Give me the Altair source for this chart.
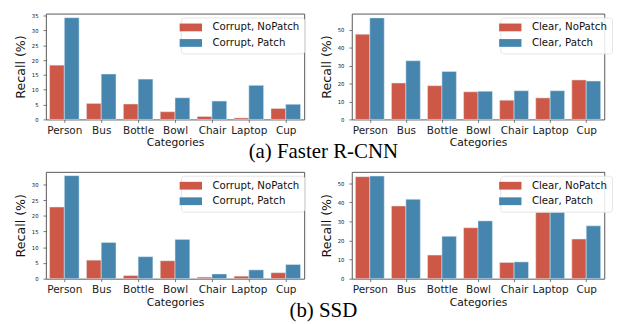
import json
import altair as alt
import pandas as pd

categories = ["Person", "Bus", "Bottle", "Bowl", "Chair", "Laptop", "Cup"]

frcnn_corrupt_nopatch = [18.3, 5.4, 5.2, 2.6, 1.0, 0.5, 3.7]
frcnn_corrupt_patch = [34.3, 15.3, 13.6, 7.3, 6.2, 11.5, 5.1]
frcnn_clear_nopatch = [47.5, 20.3, 18.8, 15.4, 10.7, 12.0, 22.0]
frcnn_clear_patch = [56.6, 32.7, 26.7, 15.7, 16.0, 16.0, 21.4]
ssd_corrupt_nopatch = [22.8, 5.9, 1.0, 5.7, 0.5, 0.8, 1.9]
ssd_corrupt_patch = [32.8, 11.5, 7.0, 12.5, 1.5, 2.8, 4.5]
ssd_clear_nopatch = [53.5, 38.1, 12.4, 26.7, 8.5, 35.0, 20.8]
ssd_clear_patch = [53.8, 41.6, 22.2, 30.3, 8.8, 35.0, 27.7]

corrupt_labels = ["Corrupt, NoPatch", "Corrupt, Patch"]
clear_labels = ["Clear, NoPatch", "Clear, Patch"]

RED = "#cd5847"
BLUE = "#4585ae"
FONT = "DejaVu Sans"
LABEL_EXPR = json.dumps(categories) + "[datum.value]"


def panel(nopatch, patch, labels, ymax, ticks, width, height, legend_x):
    n = len(categories)
    df = pd.DataFrame({
        "Category": categories * 2,
        "Series": [labels[0]] * n + [labels[1]] * n,
        "Recall": nopatch + patch,
        "idx": list(range(n)) * 2,
        "hue": [0] * n + [1] * n,
    })
    return alt.Chart(df).transform_calculate(
        x0="datum.idx - 0.4 + 0.4 * datum.hue",
        x1="datum.idx + 0.4 * datum.hue",
        base="0",
    ).mark_rect(stroke="#e3edf3", strokeWidth=0.5).encode(
        x=alt.X("x0:Q", scale=alt.Scale(domain=[-0.5, n - 0.5], nice=False, zero=False),
                axis=alt.Axis(title="Categories", values=list(range(n)),
                              labelExpr=LABEL_EXPR, labelAngle=0, grid=False,
                              labelFlush=False, labelOverlap=False)),
        x2="x1:Q",
        y=alt.Y("Recall:Q", scale=alt.Scale(domain=[0, ymax], nice=False, zero=True),
                axis=alt.Axis(title="Recall (%)", values=ticks)),
        y2="base:Q",
        color=alt.Color("Series:N", sort=labels,
                        scale=alt.Scale(domain=labels, range=[RED, BLUE]),
                        legend=alt.Legend(title=None, orient="none",
                                          legendX=legend_x, legendY=4)),
        tooltip=["Category:N", "Series:N", "Recall:Q"],
    ).properties(width=width, height=height)


def title_kw(offset):
    return dict(orient="bottom", font="Liberation Serif", fontSize=21.5,
                fontWeight="normal", color="black", offset=offset,
                anchor="middle", dx=10)


row_a = alt.hconcat(
    panel(frcnn_corrupt_nopatch, frcnn_corrupt_patch, corrupt_labels, 35.7,
          [0, 5, 10, 15, 20, 25, 30, 35], 266, 109, 139),
    panel(frcnn_clear_nopatch, frcnn_clear_patch, clear_labels, 59.0,
          [0, 10, 20, 30, 40, 50], 260, 109, 153),
    spacing=15,
).resolve_scale(color="independent").resolve_legend(color="independent").properties(
    title=alt.TitleParams("(a) Faster R-CNN", **title_kw(-7)))

row_b = alt.hconcat(
    panel(ssd_corrupt_nopatch, ssd_corrupt_patch, corrupt_labels, 34.0,
          [0, 5, 10, 15, 20, 25, 30], 266, 110, 139),
    panel(ssd_clear_nopatch, ssd_clear_patch, clear_labels, 56.0,
          [0, 10, 20, 30, 40, 50], 260, 110, 153),
    spacing=15,
).resolve_scale(color="independent").resolve_legend(color="independent").properties(
    title=alt.TitleParams("(b) SSD", **title_kw(-7)))

chart = alt.vconcat(row_a, row_b, spacing=8).resolve_scale(
    color="independent").resolve_legend(color="independent").properties(
    padding={"left": 6, "top": 0, "right": 0, "bottom": 0}
).configure_view(
    stroke="#555555", strokeWidth=1
).configure_axis(
    domain=False, grid=False, tickColor="#555555", tickSize=3, tickWidth=0.8,
    labelFont=FONT, titleFont=FONT, labelColor="#222222", titleColor="#111111",
    titleFontWeight="normal",
).configure_axisX(
    labelFontSize=10.8, labelPadding=2.5, titleFontSize=11, titlePadding=2,
).configure_axisY(
    labelFontSize=5.5, labelPadding=5, titleFontSize=13, titlePadding=4,
).configure_legend(
    fillColor="rgba(255,255,255,0.85)", strokeColor="#e4e4e4", cornerRadius=3,
    padding=5, labelFont=FONT, labelFontSize=10.5, labelColor="#111111",
    symbolType="M-2.875,-1H2.875V1H-2.875Z", symbolSize=64, symbolStrokeWidth=0,
    symbolOpacity=1, labelOffset=17, rowPadding=5,
).configure_title(font="Liberation Serif")

chart.save("out.html", embed_options={"renderer": "svg", "actions": False})
